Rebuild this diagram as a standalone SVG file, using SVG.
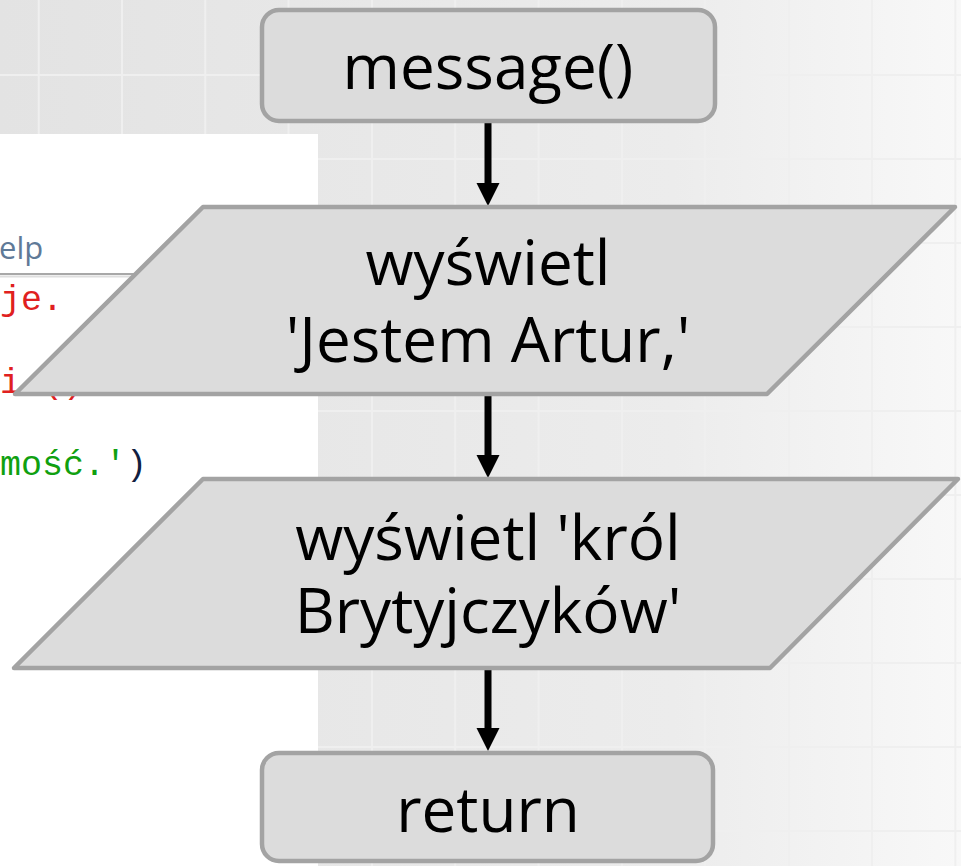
<svg xmlns="http://www.w3.org/2000/svg" width="961" height="866" viewBox="0 0 961 866">
<defs>
<linearGradient id="bg" x1="0" y1="0" x2="1" y2="0">
<stop offset="0" stop-color="#e3e3e3"/>
<stop offset="0.7" stop-color="#ececec"/>
<stop offset="1" stop-color="#f8f8f8"/>
</linearGradient>
<marker id="ah" markerUnits="userSpaceOnUse" markerWidth="24" markerHeight="24" viewBox="0 0 24 24" refX="0" refY="12" orient="auto">
<path d="M0,0.5 L23,12 L0,23.5 z" fill="#000"/>
</marker>
<style>
.grid line{stroke:#efefef;stroke-width:2}
.node{fill:#dcdcdc;stroke:#a3a3a3;stroke-width:4.5;stroke-linejoin:round}
.lbl{font-family:"Open Sans","DejaVu Sans",sans-serif;font-size:62px;fill:#000;text-anchor:middle}
.code{font-family:"Liberation Mono","DejaVu Sans Mono",monospace;font-size:35px}
.conn line{stroke:#000;stroke-width:7}
</style>
</defs>
<rect width="961" height="866" fill="url(#bg)"/>
<g class="grid">
<line x1="38.7" y1="0" x2="38.7" y2="866"/>
<line x1="122" y1="0" x2="122" y2="866"/>
<line x1="205.3" y1="0" x2="205.3" y2="866"/>
<line x1="288.6" y1="0" x2="288.6" y2="866"/>
<line x1="372" y1="0" x2="372" y2="866"/>
<line x1="455.3" y1="0" x2="455.3" y2="866"/>
<line x1="538.6" y1="0" x2="538.6" y2="866"/>
<line x1="622" y1="0" x2="622" y2="866"/>
<line x1="705.3" y1="0" x2="705.3" y2="866"/>
<line x1="788.6" y1="0" x2="788.6" y2="866"/>
<line x1="872" y1="0" x2="872" y2="866"/>
<line x1="955.3" y1="0" x2="955.3" y2="866"/>
<line x1="0" y1="75" x2="961" y2="75"/>
<line x1="0" y1="159" x2="961" y2="159"/>
<line x1="0" y1="243" x2="961" y2="243"/>
<line x1="0" y1="327" x2="961" y2="327"/>
<line x1="0" y1="411" x2="961" y2="411"/>
<line x1="0" y1="495" x2="961" y2="495"/>
<line x1="0" y1="579" x2="961" y2="579"/>
<line x1="0" y1="663" x2="961" y2="663"/>
<line x1="0" y1="747" x2="961" y2="747"/>
<line x1="0" y1="831" x2="961" y2="831"/>
</g>
<g id="screenshot">
<rect x="0" y="134" width="318" height="732" fill="#ffffff"/>
<text x="-1" y="259" font-family="Open Sans, sans-serif" font-size="31" fill="#5f7a98">elp</text>
<line x1="0" y1="274" x2="318" y2="274" stroke="#a8a8a8" stroke-width="2"/>
<line x1="0" y1="276.5" x2="318" y2="276.5" stroke="#dedede" stroke-width="2"/>
<text class="code" x="0" y="310" fill="#e02020">je.</text>
<text class="code" x="0" y="393" fill="#e02020">i</text>
<text class="code" x="42" y="393" fill="#e02020">()</text>
<text class="code" x="0" y="475"><tspan fill="#10a010">mość.'</tspan><tspan fill="#102040">)</tspan></text>
</g>
<g id="connectors" class="conn">
<line x1="488" y1="123" x2="488" y2="183" marker-end="url(#ah)"/>
<line x1="488" y1="396" x2="488" y2="455" marker-end="url(#ah)"/>
<line x1="488" y1="670" x2="488" y2="728" marker-end="url(#ah)"/>
</g>
<g id="start">
<rect class="node" x="262" y="10" width="453" height="111" rx="17"/>
<text class="lbl" x="488" y="89">message()</text>
</g>
<g id="out1">
<polygon class="node" points="203,207 955,207 767,394 15,394"/>
<text class="lbl" x="488" y="285">wyświetl</text>
<text class="lbl" x="488" y="362">'Jestem Artur,'</text>
</g>
<g id="out2">
<polygon class="node" points="203,479 958,479 770,668 14,668"/>
<text class="lbl" x="488" y="560">wyświetl 'król</text>
<text class="lbl" x="488" y="633">Brytyjczyków'</text>
</g>
<g id="end">
<rect class="node" x="262" y="753" width="451" height="108" rx="17"/>
<text class="lbl" x="488" y="832">return</text>
</g>
</svg>
